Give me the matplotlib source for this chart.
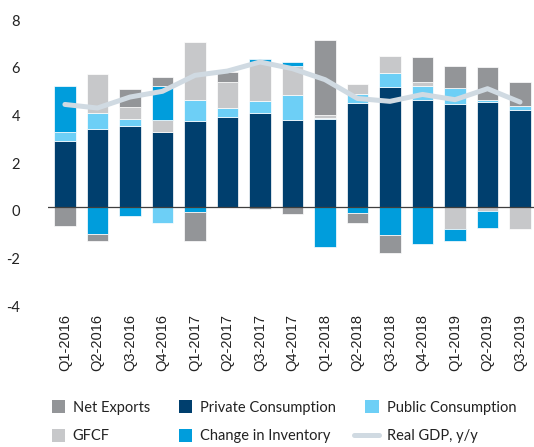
import matplotlib
matplotlib.use("Agg")
import matplotlib.pyplot as plt
import matplotlib.patches as mpatches
from matplotlib.lines import Line2D
from matplotlib.legend_handler import HandlerPatch
from matplotlib.transforms import ScaledTranslation
import numpy as np

categories = ['Q1-2016', 'Q2-2016', 'Q3-2016', 'Q4-2016',
              'Q1-2017', 'Q2-2017', 'Q3-2017', 'Q4-2017',
              'Q1-2018', 'Q2-2018', 'Q3-2018', 'Q4-2018',
              'Q1-2019', 'Q2-2019', 'Q3-2019']
private_consumption = [2.77, 3.27, 3.40, 3.14, 3.61, 3.76, 3.96, 3.65, 3.68, 4.36, 5.03, 4.47, 4.30, 4.40, 4.08]
public_consumption = [0.36, 0.66, 0.27, -0.67, 0.88, 0.39, 0.49, 1.03, 0.07, 0.39, 0.59, 0.60, 0.70, 0.07, 0.14]
gfcf = [0.00, 1.66, 0.52, 0.52, 2.42, 1.09, 1.57, 1.22, 0.10, 0.42, 0.70, 0.17, -0.91, -0.17, -0.94]
change_in_inventory = [1.93, -1.15, -0.38, 1.41, -0.22, 0.00, 0.17, 0.17, -1.68, -0.25, -1.19, -1.54, -0.53, -0.70, 0.00]
net_exports = [-0.81, -0.28, 0.74, 0.36, -1.20, 0.42, -0.08, -0.31, 3.17, -0.42, -0.73, 1.05, 0.91, 1.40, 1.02]
real_gdp = [4.30, 4.15, 4.61, 4.85, 5.52, 5.70, 6.08, 5.80, 5.34, 4.55, 4.43, 4.72, 4.50, 4.96, 4.40]
y_ticks = [-4, -2, 0, 2, 4, 6, 8]

C_NX = '#939598'
C_PRIV = '#003f6e'
C_PUB = '#6dcff6'
C_GFCF = '#c7c8ca'
C_INV = '#009ddc'
C_GDP = '#d0dae2'

fig = plt.figure(figsize=(5.34, 4.47), dpi=100)
ax = fig.add_axes([48/534, (447-302.4)/447, 486/534, (302.4-16.2)/447])

x = np.arange(len(categories))
pos = np.zeros(len(x))
neg = np.zeros(len(x))
series = [(private_consumption, C_PRIV), (public_consumption, C_PUB), (gfcf, C_GFCF),
          (change_in_inventory, C_INV), (net_exports, C_NX)]
for vals, col in series:
    v = np.array(vals, dtype=float)
    bottom = np.where(v >= 0, pos, neg)
    ax.bar(x, v, 0.667, bottom=bottom, color=col, edgecolor='white', linewidth=0.5, zorder=2)
    pos = pos + np.where(v >= 0, v, 0)
    neg = neg + np.where(v < 0, v, 0)

ax.axhline(0, color='#3f3f3f', lw=0.9, zorder=3)
ax.plot(x, real_gdp, color=C_GDP, lw=3.6, solid_capstyle='round', solid_joinstyle='round', zorder=4)

ax.set_xlim(-0.52, 14.43)
ax.set_ylim(-4, 8)
ax.set_yticks(y_ticks)
ax.set_yticklabels([str(t) for t in y_ticks], fontfamily='Lato', fontsize=10.5, color='#222222')
ax.set_xticks(x)
ax.set_xticklabels(categories, rotation=90, fontfamily='Liberation Sans', fontsize=10.5, color='#222222')
ax.tick_params(axis='y', length=0, pad=20)
ax.tick_params(axis='x', length=0, pad=8)
for lab in ax.get_yticklabels():
    lab.set_transform(lab.get_transform() + ScaledTranslation(0, -0.04, fig.dpi_scale_trans))
for s in ax.spines.values():
    s.set_visible(False)


def square_patch(legend, orig_handle, xdescent, ydescent, width, height, fontsize):
    s = 9.4
    return mpatches.Rectangle((-xdescent + width - s, -ydescent + (height - s) / 2), s, s)


h_nx = mpatches.Patch(facecolor=C_NX, edgecolor='none', label='Net Exports')
h_gfcf = mpatches.Patch(facecolor=C_GFCF, edgecolor='none', label='GFCF')
h_priv = mpatches.Patch(facecolor=C_PRIV, edgecolor='none', label='Private Consumption')
h_inv = mpatches.Patch(facecolor=C_INV, edgecolor='none', label='Change in Inventory')
h_pub = mpatches.Patch(facecolor=C_PUB, edgecolor='none', label='Public Consumption')
h_gdp = Line2D([], [], color=C_GDP, lw=3.6, solid_capstyle='round', label='Real GDP, y/y')
handles = [h_nx, h_gfcf, h_priv, h_inv, h_pub, h_gdp]
hp = HandlerPatch(patch_func=square_patch)
leg = fig.legend(handles=handles, loc='upper left', bbox_to_anchor=(40/534, 0.104), ncol=3,
                 frameon=False, borderaxespad=0, borderpad=0, handlelength=1.7,
                 handletextpad=0.55, columnspacing=1.2, labelspacing=1.02,
                 prop={'family': 'Lato', 'size': 10.5},
                 handler_map={mpatches.Patch: hp})
for t in leg.get_texts():
    t.set_color('#222222')

fig.savefig('out.png', dpi=100)
